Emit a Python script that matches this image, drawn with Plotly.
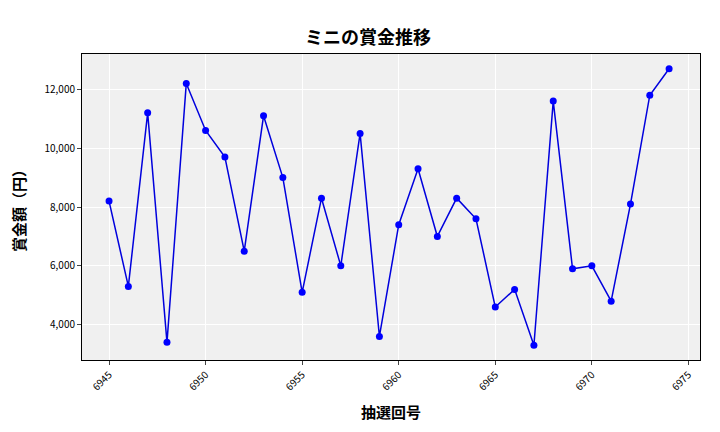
import plotly.graph_objects as go

draws = list(range(6945, 6975))
prizes = [8200,5300,11200,3400,12200,10600,9700,6500,11100,9000,5100,8300,6000,10500,3600,
          7400,9300,7000,8300,7600,4600,5200,3300,11600,5900,6000,4800,8100,11800,12700]

fig = go.Figure(go.Scatter(x=draws, y=prizes, mode="lines+markers",
                           line=dict(color="#0000dd", width=1.5),
                           marker=dict(color="#0000ff", size=7)))
font = "Noto Sans CJK JP"
fig.update_layout(
    width=720, height=432, paper_bgcolor="white", plot_bgcolor="#f0f0f0",
    margin=dict(l=74, r=28, t=46, b=80),
    font=dict(family=font, size=10, color="black"),
    title=dict(text="<b>ミニの賞金推移</b>", x=0.5, xanchor="center", y=0.945, font=dict(size=18)),
    showlegend=False,
)
fig.update_xaxes(title=dict(text="<b>抽選回号</b>", font=dict(size=15)), range=[6943.6, 6975.6],
                 tickvals=list(range(6945, 6976, 5)), tickangle=-45, gridcolor="white",
                 showline=True, linecolor="black", mirror=True, ticks="outside", ticklen=4)
fig.update_yaxes(title=dict(text="<b>賞金額（円）</b>", font=dict(size=15)), range=[2800, 13200],
                 tickvals=[4000,6000,8000,10000,12000], tickformat=",", gridcolor="white",
                 showline=True, linecolor="black", mirror=True, ticks="outside", ticklen=4)
fig.write_html("out.html")
